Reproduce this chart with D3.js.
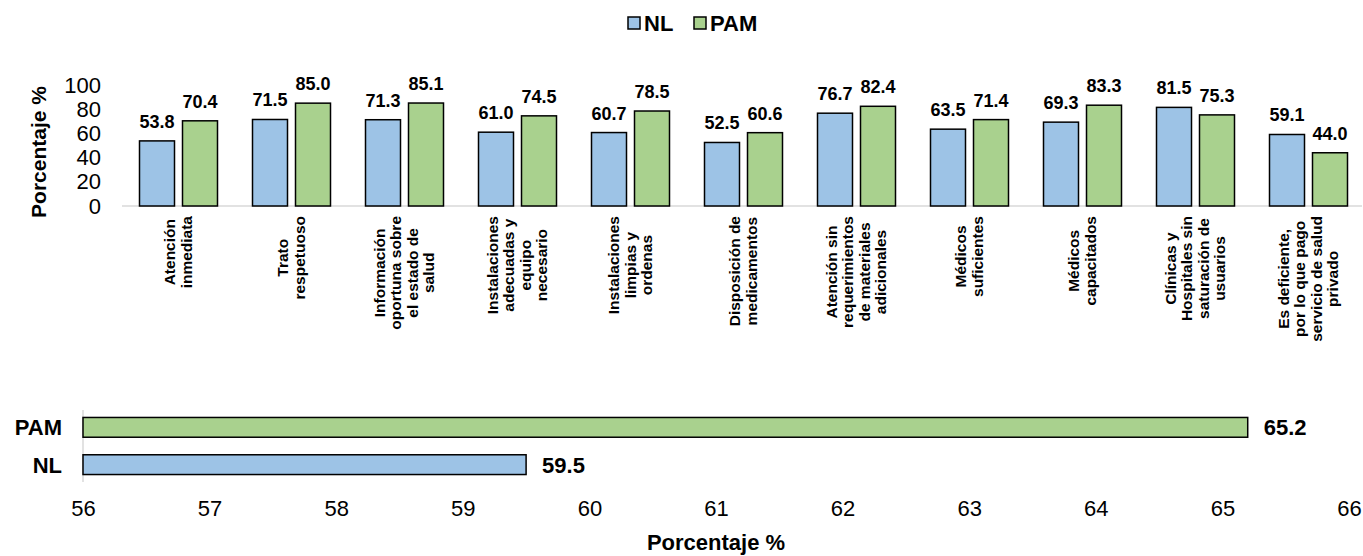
<!DOCTYPE html>
<html>
<head>
<meta charset="utf-8">
<script src="https://cdn.jsdelivr.net/npm/d3@7"></script>
<style>
  body { margin: 0; background: #fff; }
  text { font-family: Arial, "Liberation Sans", sans-serif; }
</style>
</head>
<body>
<div id="container"></div>
<script>
let w = 1363;
let h = 556;

// DATA
let categories = [
  ["Atención", "inmediata"],
  ["Trato", "respetuoso"],
  ["Información", "oportuna sobre", "el estado de", "salud"],
  ["Instalaciones", "adecuadas y", "equipo", "necesario"],
  ["Instalaciones", "limpias y", "ordenas"],
  ["Disposición de", "medicamentos"],
  ["Atención sin", "requerimientos", "de materiales", "adicionales"],
  ["Médicos", "suficientes"],
  ["Médicos", "capacitados"],
  ["Clínicas y", "Hospitales sin", "saturación de", "usuarios"],
  ["Es deficiente,", "por lo que pago", "servicio de salud", "privado"]
];
let nlValues = [53.8, 71.5, 71.3, 61.0, 60.7, 52.5, 76.7, 63.5, 69.3, 81.5, 59.1];
let pamValues = [70.4, 85.0, 85.1, 74.5, 78.5, 60.6, 82.4, 71.4, 83.3, 75.3, 44.0];
let series = ["NL", "PAM"];
let yTicks = [0, 20, 40, 60, 80, 100];

let totalGroups = ["PAM", "NL"];
let totalValues = [65.2, 59.5];
let xTicks = [56, 57, 58, 59, 60, 61, 62, 63, 64, 65, 66];

let colors = {NL: "#9DC3E6", PAM: "#A9D18E"};

let svg = d3.select("#container").append("svg")
    .attr("width", w)
    .attr("height", h)
    .style("background-color", "#ffffff");

// LEGEND
let legend = svg.append("g").attr("transform", "translate(628,17)");
let legendX = [0, 66];
series.forEach((s, i) => {
  let g = legend.append("g").attr("transform", `translate(${legendX[i]},0)`);
  g.append("rect").attr("width", 12).attr("height", 12)
      .attr("fill", colors[s]).attr("stroke", "#000").attr("stroke-width", 1.5);
  g.append("text").attr("x", 16).attr("y", 14)
      .attr("font-size", 22).attr("font-weight", "bold").text(s);
});

// TOP CHART
let x0 = d3.scaleBand().domain(d3.range(categories.length)).range([122, 1365]);
let y = d3.scaleLinear().domain([0, 100]).range([206, 85]);
let barW = 35, barGap = 8;

svg.append("line")
    .attr("x1", 122).attr("x2", 1362)
    .attr("y1", y(0)).attr("y2", y(0))
    .attr("stroke", "#d9d9d9").attr("stroke-width", 1.5);

let yAxis = svg.append("g")
    .attr("transform", "translate(101,0)")
    .call(d3.axisLeft(y).tickValues(yTicks).tickSize(0).tickPadding(0));
yAxis.select(".domain").remove();
yAxis.selectAll("text").attr("font-size", 22).attr("fill", "#000")
    .attr("font-family", "Arial, 'Liberation Sans', sans-serif");

svg.append("text")
    .attr("transform", "translate(46,152) rotate(-90)")
    .attr("text-anchor", "middle")
    .attr("font-size", 21).attr("font-weight", "bold")
    .text("Porcentaje %");

let rows = categories.map((c, i) => ({i: i, NL: nlValues[i], PAM: pamValues[i]}));

let groups = svg.selectAll(".grp").data(rows).enter().append("g")
    .attr("class", "grp")
    .attr("transform", d => `translate(${x0(d.i) + x0.bandwidth() / 2},0)`);

series.forEach((s, k) => {
  let off = k === 0 ? -barGap / 2 - barW : barGap / 2;
  groups.append("rect")
      .attr("x", off)
      .attr("width", barW)
      .attr("y", d => y(d[s]))
      .attr("height", d => y(0) - y(d[s]))
      .attr("fill", colors[s])
      .attr("stroke", "#000").attr("stroke-width", 1.5);
  groups.append("text")
      .attr("x", off + barW / 2)
      .attr("y", d => y(d[s]) - 13)
      .attr("text-anchor", "middle")
      .attr("font-size", 18).attr("font-weight", "bold")
      .text(d => d[s].toFixed(1));
});

// rotated category labels
groups.each(function(d) {
  let g = d3.select(this);
  let lines = categories[d.i];
  let t = g.append("text")
      .attr("font-size", 15.5).attr("font-weight", "bold")
      .attr("text-anchor", "middle")
      .attr("transform", "rotate(-90)");
  let spans = lines.map(ln => t.append("tspan").text(ln));
  let maxLen = d3.max(spans, sp => sp.node().getComputedTextLength());
  let lh = 16.5;
  let n = lines.length;
  spans.forEach((sp, j) => {
    sp.attr("x", -(216 + maxLen / 2))
      .attr("y", (j - (n - 1) / 2) * lh + 5);
  });
});

// BOTTOM CHART
let x = d3.scaleLinear().domain([56, 66]).range([83, 1349]);
let yb = d3.scaleBand().domain(totalGroups).range([410, 482]).paddingInner(0.47).paddingOuter(0.2);

svg.append("line")
    .attr("x1", 83).attr("x2", 83)
    .attr("y1", 410).attr("y2", 482)
    .attr("stroke", "#d9d9d9").attr("stroke-width", 1.5);

svg.selectAll(".hbar").data(totalGroups).enter().append("rect")
    .attr("class", "hbar")
    .attr("x", x(56))
    .attr("y", d => yb(d))
    .attr("height", yb.bandwidth())
    .attr("width", (d, i) => x(totalValues[i]) - x(56))
    .attr("fill", d => colors[d])
    .attr("stroke", "#000").attr("stroke-width", 1.5);

svg.selectAll(".hval").data(totalGroups).enter().append("text")
    .attr("class", "hval")
    .attr("x", (d, i) => x(totalValues[i]) + 16)
    .attr("y", d => yb(d) + yb.bandwidth() / 2 + 8)
    .attr("font-size", 22).attr("font-weight", "bold")
    .text((d, i) => totalValues[i].toFixed(1));

svg.selectAll(".hcat").data(totalGroups).enter().append("text")
    .attr("class", "hcat")
    .attr("x", 62)
    .attr("y", d => yb(d) + yb.bandwidth() / 2 + 8)
    .attr("text-anchor", "end")
    .attr("font-size", 22).attr("font-weight", "bold")
    .text(d => d);

let xAxis = svg.append("g")
    .attr("transform", "translate(0,500)")
    .call(d3.axisBottom(x).tickValues(xTicks).tickSize(0).tickPadding(0));
xAxis.select(".domain").remove();
xAxis.selectAll("text").attr("font-size", 22).attr("fill", "#000")
    .attr("font-family", "Arial, 'Liberation Sans', sans-serif");

svg.append("text")
    .attr("x", 716).attr("y", 550)
    .attr("text-anchor", "middle")
    .attr("font-size", 22).attr("font-weight", "bold")
    .text("Porcentaje %");
</script>
</body>
</html>
